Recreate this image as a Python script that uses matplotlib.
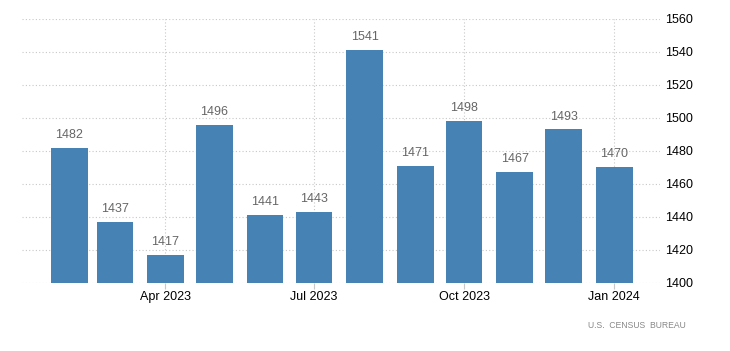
import numpy as np
import matplotlib.pyplot as plt
import matplotlib.dates as mdates
import datetime as dt

plt.rcParams['font.family'] = ['Liberation Sans', 'DejaVu Sans']

months = ["2023-02", "2023-03", "2023-04", "2023-05", "2023-06", "2023-07",
          "2023-08", "2023-09", "2023-10", "2023-11", "2023-12", "2024-01"]
values = [1482, 1437, 1417, 1496, 1441, 1443, 1541, 1471, 1498, 1467, 1493, 1470]
tick_months = ["2023-04", "2023-07", "2023-10", "2024-01"]
tick_labels = ["Apr 2023", "Jul 2023", "Oct 2023", "Jan 2024"]
yticks = np.arange(1400, 1561, 20)

dates = [dt.datetime.strptime(m, "%Y-%m") for m in months]
tdates = [dt.datetime.strptime(m, "%Y-%m") for m in tick_months]

fig = plt.figure(figsize=(7.3, 3.51), dpi=100)
ax = fig.add_axes([0.030, 0.194, 0.874, 0.752])

ax.bar(dates, values, width=22.5, color="#4682b4", zorder=2)
for d, v in zip(dates, values):
    ax.annotate(str(v), (d, v), xytext=(0, 5), textcoords="offset points",
                ha="center", va="bottom", fontsize=9, color="#666666")

ax.set_ylim(1400, 1560)
ax.set_yticks(yticks)
ax.set_xlim(dt.datetime(2023, 1, 3), dt.datetime(2024, 1, 29))
ax.set_xticks(tdates)
ax.set_xticklabels(tick_labels)

ax.yaxis.tick_right()
ax.grid(True, linestyle=(0, (1, 2)), color="#c8c8c8", linewidth=0.8, zorder=0)
for s in ax.spines.values():
    s.set_visible(False)
ax.tick_params(axis="y", length=0, pad=4, labelsize=9, colors="black")
ax.tick_params(axis="x", length=4, color="#c8c8c8", pad=2, labelsize=9)

fig.text(0.940, 0.072, "U.S.  CENSUS  BUREAU", ha="right", va="center",
         fontsize=6.2, color="#888888")

fig.savefig("out.png", dpi=100)
